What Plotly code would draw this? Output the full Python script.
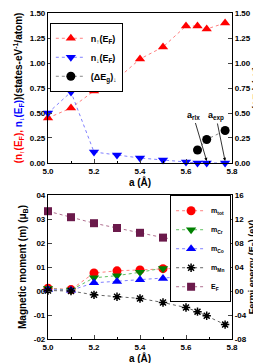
import plotly.graph_objects as go

# ---- data ----
a_top = [5.0, 5.1, 5.2, 5.3, 5.4, 5.5, 5.6, 5.65, 5.69, 5.77]
n_up = [0.45, 0.55, 0.72, 0.84, 1.04, 1.16, 1.37, 1.37, 1.34, 1.40]
n_dn = [0.50, 0.71, 0.11, 0.08, 0.05, 0.03, 0.01, 0.0, 0.0, 0.0]
a_gap = [5.65, 5.69, 5.77]
gap_dn = [0.13, 0.235, 0.325]

a_bot = [5.0, 5.1, 5.2, 5.3, 5.4, 5.5, 5.6, 5.65, 5.69, 5.77]
m_tot = [0.012, 0.006, 0.075, 0.084, 0.088, 0.093, 0.095, 0.098, 0.099, 0.098]
m_cr = [0.010, 0.004, 0.055, 0.064, 0.078, 0.094, 0.113, 0.125, 0.136, 0.170]
m_co = [0.006, 0.003, 0.034, 0.040, 0.047, 0.052, 0.058, 0.064, 0.068, 0.077]
m_mn = [0.002, 0.000, -0.016, -0.024, -0.031, -0.048, -0.069, -0.086, -0.103, -0.140]
e_f = [13.3, 12.3, 11.3, 10.5, 9.7, 8.9, 8.3, 7.9, 7.6, 7.2]

left_bot_vals = [-0.2, -0.1, 0.0, 0.1, 0.2, 0.3, 0.4]
left_bot_text = ["-02", "-01", "00", "01", "02", "03", "04"]
right_bot_vals = [-8, -4, 0, 4, 8, 12, 16]
right_bot_text = ["-08", "-04", "00", "04", "08", "12", "16"]

RED = "#ff0000"
BLUE = "#0000ff"
GREEN = "#008000"
PURPLE = "#6b1a4b"

fig = go.Figure()

def add(x, y, name, color, symbol, size, xa, ya, legend, linecolor=None, mline=None):
    fig.add_trace(go.Scatter(
        x=x, y=y, name=name, mode="lines+markers", xaxis=xa, yaxis=ya,
        legend=legend, cliponaxis=False,
        line=dict(color=linecolor or color, width=1, dash="dot"),
        marker=dict(color=color, symbol=symbol, size=size,
                    line=mline if mline else dict(width=0)),
    ))

add(a_top, n_up, "n<sub>↑</sub>(E<sub>F</sub>)", RED, "triangle-up", 9, "x", "y", "legend", "#ff8080")
add(a_top, n_dn, "n<sub>↓</sub>(E<sub>F</sub>)", BLUE, "triangle-down", 9, "x", "y", "legend", "#8080ff")
add(a_gap, gap_dn, "(ΔE<sub>g</sub>)<sub>↓</sub>", "black", "circle", 9, "x", "y2", "legend", "#888888")

add(a_bot, m_tot, "m<sub>tot</sub>", RED, "circle", 9, "x2", "y3", "legend2", "#ff8080")
add(a_bot, m_cr, "m<sub>Cr</sub>", GREEN, "triangle-down", 9, "x2", "y3", "legend2", "#60c060")
add(a_bot, m_co, "m<sub>Co</sub>", BLUE, "triangle-up", 9, "x2", "y3", "legend2", "#8080ff")
add(a_bot, m_mn, "m<sub>Mn</sub>", "black", "asterisk-open", 7, "x2", "y3", "legend2", "#666666",
    mline=dict(color="black", width=1.5))
add(a_bot, e_f, "E<sub>F</sub>", PURPLE, "square", 8, "x2", "y4", "legend2", "#b07090")

axfont = dict(family="Liberation Sans", size=8, color="black", weight="bold")
titlefont = dict(family="Liberation Sans", size=10, color="black", weight="bold")
rtitlefont = dict(family="Liberation Sans", size=9, color="black", weight="bold")

xcommon = dict(range=[5.0, 5.8], dtick=0.2, tickformat=".1f", ticks="inside", ticklen=4,
               showline=True, linecolor="black", linewidth=1.2, mirror=True,
               showgrid=False, zeroline=False, tickfont=axfont, automargin=False,
               minor=dict(dtick=0.1, ticks="inside", ticklen=2, tickcolor="black"),
               title=dict(text="a (Å)", font=titlefont, standoff=1))

ycommon = dict(showline=True, linecolor="black", linewidth=1.2, showgrid=False,
               zeroline=False, tickfont=axfont, ticks="inside", ticklen=4, automargin=False,
               ticklabeloverflow="allow")

top_title = ("<span style='color:#ff0000'>(n<sub>↑</sub>(E<sub>F</sub>),</span> "
             "<span style='color:#0000ff'>n<sub>↓</sub>(E<sub>F</sub>)</span>"
             ")(states-eV<sup>-1</sup>/atom)")

fig.update_layout(
    width=261, height=363,
    margin=dict(l=40, r=37, t=5, b=32),
    paper_bgcolor="white", plot_bgcolor="white",
    font=dict(family="Liberation Sans", size=8, color="black", weight="bold"),
    xaxis=dict(xcommon, anchor="y", domain=[0, 1]),
    yaxis=dict(ycommon, domain=[0.5399, 1], range=[0, 1.5], dtick=0.25, tickformat=".2f",
               anchor="x", title=dict(text=top_title, font=titlefont, standoff=5)),
    yaxis2=dict(ycommon, overlaying="y", side="right", range=[0, 1.5], dtick=0.25,
                tickformat=".2f", anchor="x",
                title=dict(text="(ΔE<sub>g</sub>)<sub>↓</sub>(eV)", font=rtitlefont, standoff=1)),
    xaxis2=dict(xcommon, anchor="y3", domain=[0, 1]),
    yaxis3=dict(ycommon, domain=[0, 0.4417], range=[-0.2, 0.4], tickvals=left_bot_vals,
                ticktext=left_bot_text, anchor="x2",
                title=dict(text="Magnetic moment (m) (μ<sub>B</sub>)", font=titlefont, standoff=5)),
    yaxis4=dict(ycommon, overlaying="y3", side="right", range=[-8, 16], tickvals=right_bot_vals,
                ticktext=right_bot_text, anchor="x2",
                title=dict(text="Fermi energy (E<sub>F</sub>) (eV)", font=rtitlefont, standoff=1)),
    legend=dict(x=0.01, y=0.97, xanchor="left", yanchor="top", bgcolor="white",
                bordercolor="black", borderwidth=1, font=dict(size=9, weight="bold"),
                tracegroupgap=0, itemwidth=30),
    legend2=dict(x=0.995, y=0.441, xanchor="right", yanchor="top", bgcolor="white",
                 bordercolor="black", borderwidth=1, font=dict(size=7, weight="bold"),
                 tracegroupgap=0, itemwidth=30),
    showlegend=True,
)

fig.add_annotation(x=5.69, y=0.02, xref="x", yref="y", ax=5.632, ay=0.47, axref="x", ayref="y",
                   text="a<sub>rlx</sub>", showarrow=True, arrowhead=2, arrowsize=0.8,
                   arrowwidth=0.8, arrowcolor="black", font=dict(size=9))
fig.add_annotation(x=5.77, y=0.02, xref="x", yref="y", ax=5.73, ay=0.47, axref="x", ayref="y",
                   text="a<sub>exp</sub>", showarrow=True, arrowhead=2, arrowsize=0.8,
                   arrowwidth=0.8, arrowcolor="black", font=dict(size=9))

fig.write_html("out.html")
